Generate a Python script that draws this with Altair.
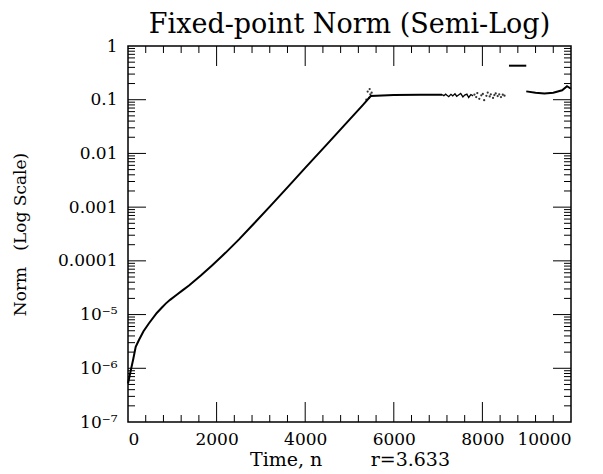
import altair as alt
import pandas as pd
import numpy as np

# ---- data ----
# main growth curve (time n, norm)
curve_n = [0, 60, 120, 174, 250, 350, 474, 650, 750, 851, 950, 1100, 1230, 1377,
           1650, 1903, 2200, 2506, 2850, 3221, 3600, 4000, 4500, 5000, 5300, 5480,
           6000, 6600, 7090]
curve_v = [5.2e-7, 8.9e-7, 1.5e-6, 2.5e-6, 3.4e-6, 4.9e-6, 6.9e-6, 1.07e-5, 1.31e-5,
           1.6e-5, 1.88e-5, 2.34e-5, 2.82e-5, 3.47e-5, 5.37e-5, 8.32e-5, 1.41e-4,
           2.51e-4, 5.01e-4, 1.07e-3, 2.34e-3, 5.37e-3, 1.51e-2, 4.27e-2, 7.94e-2,
           0.117, 0.123, 0.124, 0.124]

# wiggly stretch right after the flat part
wig_n = [7090, 7130, 7170, 7200, 7240, 7290, 7330, 7380, 7420, 7470, 7510, 7560,
         7600, 7650, 7690, 7740, 7790]
wig_v = [0.124, 0.119, 0.127, 0.121, 0.114, 0.126, 0.118, 0.129, 0.116, 0.124,
         0.131, 0.113, 0.122, 0.127, 0.11, 0.125, 0.118]

# scattered points at the knee and in the noisy band
noise_n = [5380, 5410, 5440, 5455, 5470, 5500,
           7820, 7860, 7885, 7930, 7975, 8010, 8040, 8090, 8120, 8165, 8190, 8240,
           8270, 8300, 8345, 8380, 8420, 8460, 8500]
noise_v = [0.1, 0.142, 0.108, 0.158, 0.126, 0.135,
           0.125, 0.112, 0.133, 0.104, 0.121, 0.128, 0.098, 0.118, 0.136, 0.115,
           0.126, 0.108, 0.122, 0.131, 0.117, 0.126, 0.112, 0.124, 0.119]

# short dash high up, then the late curve
dash_n = [8600, 8990]
dash_v = [0.43, 0.43]
late_n = [8990, 9200, 9400, 9600, 9800, 9910, 10000]
late_v = [0.143, 0.135, 0.13, 0.135, 0.15, 0.178, 0.16]

x_tick_values = [0, 2000, 4000, 6000, 8000, 10000]
y_tick_values = [1e-7, 1e-6, 1e-5, 1e-4, 1e-3, 1e-2, 1e-1, 1]
y_tick_labels = ["10\u207b\u2077", "10\u207b\u2076", "10\u207b\u2075", "0.0001",
                 "0.001", "0.01", "0.1", "1"]

title = "Fixed-point Norm (Semi-Log)"
x_title = "Time, n" + "\u00a0" * 8 + "r=3.633"
y_title = "Norm\u00a0\u00a0\u00a0(Log Scale)"

FONT = "DejaVu Serif"
W, H = 443, 376
XMIN, XMAX = 0, 10000
YMIN, YMAX = 1e-7, 1.0

xs = alt.Scale(domain=[XMIN, XMAX], nice=False, zero=False)
ys = alt.Scale(type="log", domain=[YMIN, YMAX], nice=False)

lines = pd.concat([
    pd.DataFrame({"n": curve_n, "v": curve_v, "seg": "a"}),
    pd.DataFrame({"n": dash_n, "v": dash_v, "seg": "b"}),
    pd.DataFrame({"n": late_n, "v": late_v, "seg": "c"}),
])
wig = pd.DataFrame({"n": wig_n, "v": wig_v})
noise = pd.DataFrame({"n": noise_n, "v": noise_v})

# inward ticks built from tick values
decades = np.log10(YMAX) - np.log10(YMIN)
px_y = H / decades  # pixels per decade
px_x = W / (XMAX - XMIN)
rows = []
for v in range(400, 10000, 400):
    L = 20 if v % 2000 == 0 else 7
    d = L / px_y
    rows.append({"x": v, "x2": v, "y": YMIN, "y2": YMIN * 10 ** d})
    rows.append({"x": v, "x2": v, "y": YMAX, "y2": YMAX * 10 ** (-d)})
for e in range(-7, 0):
    for m in range(1, 10):
        val = m * 10.0 ** e
        if val <= YMIN:
            continue
        L = 18 if m == 1 else 7
        dx = L / px_x
        rows.append({"x": XMIN, "x2": XMIN + dx, "y": val, "y2": val})
        rows.append({"x": XMAX, "x2": XMAX - dx, "y": val, "y2": val})
ticks = pd.DataFrame(rows)

label_expr = "[" + ",".join("'%s'" % s for s in y_tick_labels) + "][round(log(datum.value)/LN10)+7]"

axis_style = dict(labelFont=FONT, labelFontSize=17, labelColor="black",
                  titleFont=FONT, titleFontWeight="normal",
                  titleColor="black", domain=False, ticks=False, grid=False)

base_x = alt.X("n:Q", scale=xs, axis=alt.Axis(values=x_tick_values, format="d", title=x_title,
               labelPadding=9, titlePadding=3, titleFontSize=19, **axis_style))
base_y = alt.Y("v:Q", scale=ys, axis=alt.Axis(values=y_tick_values, labelExpr=label_expr,
               title=y_title, labelPadding=11, titlePadding=28, titleFontSize=17,
               **axis_style))

line = alt.Chart(lines).mark_line(color="black", strokeWidth=2).encode(
    x=base_x, y=base_y, detail="seg:N")
wline = alt.Chart(wig).mark_line(color="black", strokeWidth=1.3).encode(
    x=alt.X("n:Q", scale=xs), y=alt.Y("v:Q", scale=ys))
pts = alt.Chart(noise).mark_circle(color="black", size=5, opacity=0.8).encode(
    x=alt.X("n:Q", scale=xs), y=alt.Y("v:Q", scale=ys))
tk = alt.Chart(ticks).mark_rule(color="black", strokeWidth=1).encode(
    x=alt.X("x:Q", scale=xs), x2="x2:Q", y=alt.Y("y:Q", scale=ys), y2="y2:Q")

chart = alt.layer(line, tk, wline, pts).properties(
    width=W, height=H,
    background="white",
    title=alt.TitleParams(title, font=FONT, fontSize=27, fontWeight="normal", color="black",
                          anchor="middle", offset=-2),
    padding={"left": 3, "top": 3, "right": 5, "bottom": 5},
).configure_view(stroke="black", strokeWidth=1.5)

chart.save("out.html", embed_options={"renderer": "svg", "actions": False})
